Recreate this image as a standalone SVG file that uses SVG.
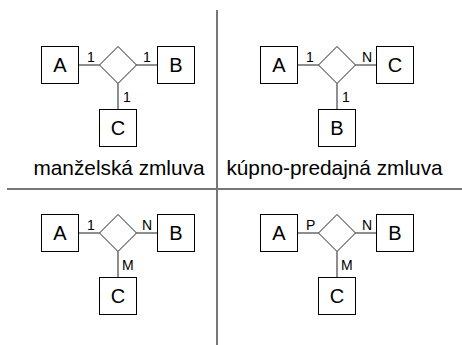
<svg xmlns="http://www.w3.org/2000/svg" width="462" height="345" viewBox="0 0 462 345">
  <style>
    .ent { fill: #fff; stroke: #000; stroke-width: 1; }
    .rel { fill: #fff; stroke: #222; stroke-width: 1; }
    .lbl { font-family: "Liberation Sans", Arial, sans-serif; font-size: 20px; fill: #000; text-anchor: middle; }
    .card { font-family: "Liberation Sans", Arial, sans-serif; font-size: 14px; fill: #000; }
    .cap { font-family: "Liberation Sans", Arial, sans-serif; font-size: 20.8px; fill: #000; text-anchor: middle; }
    .edge { stroke: #444; stroke-width: 1.2; fill: none; }
    .div { stroke: #777; stroke-width: 2; fill: none; }
  </style>
  <defs>
    <rect id="box" class="ent" x="0" y="0" width="37" height="37"/>
    <polygon id="dia" class="rel" points="-18.5,0 0,-18.5 18.5,0 0,18.5"/>
  </defs>

  <rect width="462" height="345" fill="#fff"/>

  <!-- quadrant dividers -->
  <g id="dividers">
    <line class="div" x1="217" y1="10" x2="217" y2="345"/>
    <line class="div" x1="7" y1="189" x2="462" y2="189"/>
  </g>

  <!-- relationship connectors with cardinalities -->
  <g id="connectors">
    <!-- marriage contract 1:1:1 -->
    <line class="edge" x1="79" y1="65" x2="99.5" y2="65"/>
    <line class="edge" x1="136.5" y1="65" x2="157" y2="65"/>
    <line class="edge" x1="118" y1="83.5" x2="118" y2="109"/>
    <text class="card" x="87" y="62">1</text>
    <text class="card" x="143" y="62">1</text>
    <text class="card" x="123" y="102">1</text>
    <!-- sales contract 1:N:1 -->
    <line class="edge" x1="298" y1="65" x2="318.5" y2="65"/>
    <line class="edge" x1="355.5" y1="65" x2="376" y2="65"/>
    <line class="edge" x1="337" y1="83.5" x2="337" y2="109"/>
    <text class="card" x="306" y="62">1</text>
    <text class="card" x="362" y="62">N</text>
    <text class="card" x="342" y="102">1</text>
    <!-- 1:N:M -->
    <line class="edge" x1="79" y1="233" x2="99.5" y2="233"/>
    <line class="edge" x1="136.5" y1="233" x2="157" y2="233"/>
    <line class="edge" x1="118" y1="251.5" x2="118" y2="277"/>
    <text class="card" x="87" y="230">1</text>
    <text class="card" x="142" y="230">N</text>
    <text class="card" x="122" y="270">M</text>
    <!-- P:N:M -->
    <line class="edge" x1="298" y1="233" x2="318.5" y2="233"/>
    <line class="edge" x1="355.5" y1="233" x2="376" y2="233"/>
    <line class="edge" x1="337" y1="251.5" x2="337" y2="277"/>
    <text class="card" x="306" y="230">P</text>
    <text class="card" x="362" y="230">N</text>
    <text class="card" x="341" y="270">M</text>
  </g>

  <!-- quadrant 1 -->
  <g id="q1-A"><use href="#box" x="41.5" y="46.5"/><text class="lbl" x="60" y="72">A</text></g>
  <g id="q1-rel"><use href="#dia" x="118" y="65"/></g>
  <g id="q1-B"><use href="#box" x="157.5" y="46.5"/><text class="lbl" x="176" y="72">B</text></g>
  <g id="q1-C"><use href="#box" x="99.5" y="109.5"/><text class="lbl" x="118" y="135">C</text></g>
  <text id="caption-1" class="cap" x="119" y="175">manželská zmluva</text>

  <!-- quadrant 2 -->
  <g id="q2-A"><use href="#box" x="260.5" y="46.5"/><text class="lbl" x="279" y="72">A</text></g>
  <g id="q2-rel"><use href="#dia" x="337" y="65"/></g>
  <g id="q2-C"><use href="#box" x="376.5" y="46.5"/><text class="lbl" x="395" y="72">C</text></g>
  <g id="q2-B"><use href="#box" x="318.5" y="109.5"/><text class="lbl" x="337" y="135">B</text></g>
  <text id="caption-2" class="cap" x="334.5" y="175">kúpno-predajná zmluva</text>

  <!-- quadrant 3 -->
  <g id="q3-A"><use href="#box" x="41.5" y="214.5"/><text class="lbl" x="60" y="240">A</text></g>
  <g id="q3-rel"><use href="#dia" x="118" y="233"/></g>
  <g id="q3-B"><use href="#box" x="157.5" y="214.5"/><text class="lbl" x="176" y="240">B</text></g>
  <g id="q3-C"><use href="#box" x="99.5" y="277.5"/><text class="lbl" x="118" y="303">C</text></g>

  <!-- quadrant 4 -->
  <g id="q4-A"><use href="#box" x="260.5" y="214.5"/><text class="lbl" x="279" y="240">A</text></g>
  <g id="q4-rel"><use href="#dia" x="337" y="233"/></g>
  <g id="q4-B"><use href="#box" x="376.5" y="214.5"/><text class="lbl" x="395" y="240">B</text></g>
  <g id="q4-C"><use href="#box" x="318.5" y="277.5"/><text class="lbl" x="337" y="303">C</text></g>
</svg>
